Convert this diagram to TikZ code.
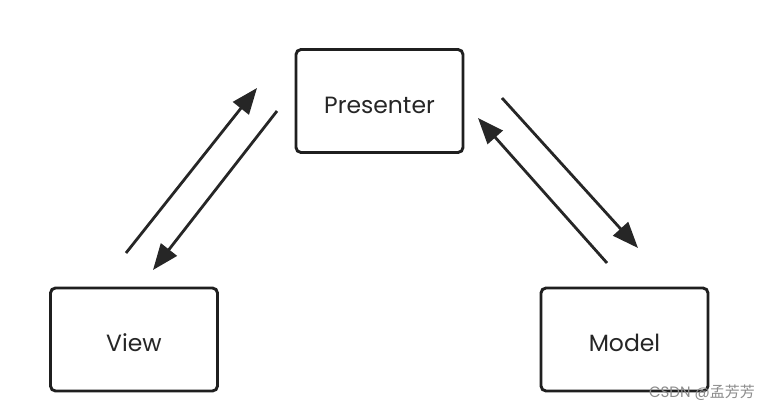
\documentclass[tikz,border=0pt]{standalone}
\usepackage{fontspec}
\setmainfont{Poppins}
\newfontfamily\cjk{Noto Sans CJK SC}
\usetikzlibrary{arrows.meta}
\begin{document}
\begin{tikzpicture}[x=1pt,y=-1pt,
  box/.style={draw=black!88,line width=2.9pt,rounded corners=5pt,minimum width=167pt,minimum height=103pt,inner sep=0pt,text height=24pt,text depth=0pt,font=\fontsize{23.5}{28}\selectfont,text=black!85},
  flow/.style={line width=2.8pt,draw=black!85,-{Triangle[length=26pt,width=20pt]}}]
\useasboundingbox[fill=white] (0,0) rectangle (758,410);
\node[box] (p) at (379.5,101) {Presenter};
\node[box] (v) at (134,339.5) {View};
\node[box] (m) at (624.5,339.5) {Model};
\coordinate (a1) at (126,253); \coordinate (a2) at (257,88);
\coordinate (b1) at (277,111); \coordinate (b2) at (153,270);
\coordinate (c1) at (502,98); \coordinate (c2) at (638,248);
\coordinate (d1) at (607,263); \coordinate (d2) at (478,118);
\draw[flow] (a1) -- (a2);
\draw[flow] (b1) -- (b2);
\draw[flow] (c1) -- (c2);
\draw[flow] (d1) -- (d2);
\node[anchor=east,text=black!45,font=\fontsize{15}{17}\selectfont,inner sep=0pt] (wm) at (755,393) {CSDN @{\cjk 孟芳芳}};
\end{tikzpicture}
\end{document}
